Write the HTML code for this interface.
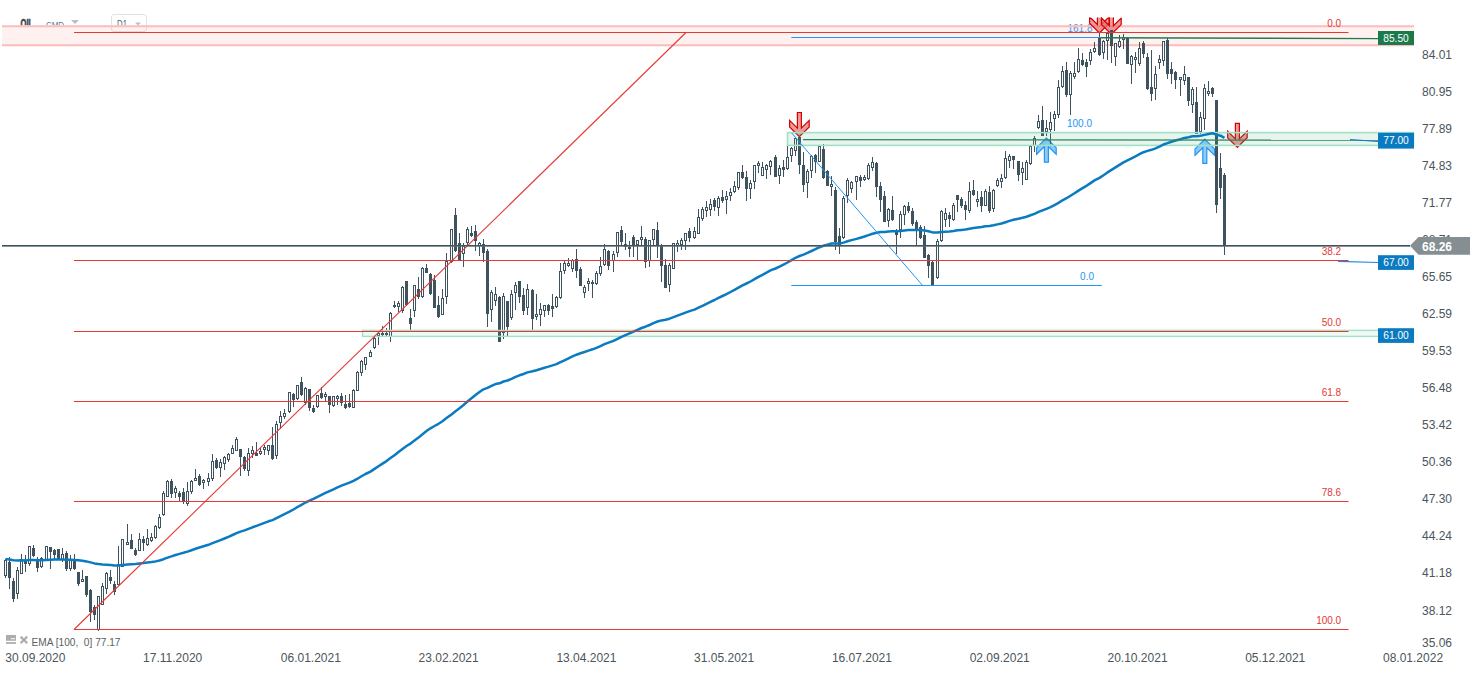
<!DOCTYPE html>
<html><head><meta charset="utf-8"><style>
html,body{margin:0;padding:0;background:#fff;width:1482px;height:674px;overflow:hidden;position:relative}
</style></head><body>
<svg width="1482" height="674" viewBox="0 0 1482 674" style="position:absolute;left:0;top:0">
<g font-family="Liberation Sans, sans-serif">
<text x="20.6" y="28.2" font-size="12.5" font-weight="bold" fill="#3b474f" stroke="#3b474f" stroke-width="0.7" textLength="12.6" lengthAdjust="spacingAndGlyphs">OIL</text>
<text x="46" y="27.8" font-size="9.5" fill="#607a88" textLength="18" lengthAdjust="spacingAndGlyphs">CMD</text>
<path d="M71 20 L79 20 L75 24 Z" fill="#b9bec2"/>
<text x="117" y="28" font-size="10.5" fill="#56616a" textLength="10" lengthAdjust="spacingAndGlyphs">D1</text>
</g>
<rect x="0" y="25.3" width="1414" height="21" fill="#fff"/>
<rect x="111.5" y="14.5" width="35" height="17" rx="2.5" fill="none" stroke="#e1e4e6"/>
<path d="M135 22.5 L141 22.5 L138 25.5 Z" fill="#b9bec2"/>
<text x="1092.5" y="32" text-anchor="end" font-family="Liberation Sans, sans-serif" font-size="10" fill="#3a9af0">161.8</text>
<rect x="2" y="26.3" width="1412" height="19" fill="#f44336" fill-opacity="0.075"/>
<line x1="2" y1="26.3" x2="1414" y2="26.3" stroke="#fbbcbc" stroke-width="2"/>
<line x1="2" y1="45.3" x2="1414" y2="45.3" stroke="#fbbcbc" stroke-width="2"/>
<g>
<polygon points="799.4,136.6 809.2,126.9 809.2,120.4 801.4,128.1 801.4,112.5 797.4,112.5 797.4,128.1 789.6,120.4 789.6,126.9" fill="#e57373" fill-opacity="0.72" stroke="#d50000" stroke-width="1.2" stroke-linejoin="miter"/>
<polygon points="1237.4,147.4 1247.2,137.7 1247.2,131.2 1239.4,138.9 1239.4,123.3 1235.4,123.3 1235.4,138.9 1227.6,131.2 1227.6,137.7" fill="#e57373" fill-opacity="0.72" stroke="#d50000" stroke-width="1.2" stroke-linejoin="miter"/>
<polygon points="1046.4,138.0 1056.2,147.7 1056.2,154.2 1048.4,146.5 1048.4,162.1 1044.4,162.1 1044.4,146.5 1036.6,154.2 1036.6,147.7" fill="#64b5f6" fill-opacity="0.72" stroke="#2196f3" stroke-width="1.2" stroke-linejoin="miter"/>
<polygon points="1204.8,139.2 1214.6,148.9 1214.6,155.4 1206.8,147.7 1206.8,163.3 1202.8,163.3 1202.8,147.7 1195.0,155.4 1195.0,148.9" fill="#64b5f6" fill-opacity="0.72" stroke="#2196f3" stroke-width="1.2" stroke-linejoin="miter"/>
</g>
<g clip-path="url(#topclip)">
<polygon points="1099.4,33.0 1109.2,23.3 1109.2,16.8 1101.4,24.5 1101.4,8.9 1097.4,8.9 1097.4,24.5 1089.6,16.8 1089.6,23.3" fill="#e57373" fill-opacity="0.72" stroke="#d50000" stroke-width="1.2" stroke-linejoin="miter"/>
<polygon points="1111.4,34.3 1121.2,24.6 1121.2,18.1 1113.4,25.8 1113.4,10.2 1109.4,10.2 1109.4,25.8 1101.6,18.1 1101.6,24.6" fill="#e57373" fill-opacity="0.72" stroke="#d50000" stroke-width="1.2" stroke-linejoin="miter"/>
</g>
<defs><clipPath id="topclip"><rect x="0" y="17.5" width="1482" height="700"/></clipPath></defs>
<g stroke="#3f535f" stroke-width="1" fill="none"><line x1="5.5" y1="559" x2="5.5" y2="578"/><rect x="4.5" y="560.5" width="2" height="15" fill="#fff"/><line x1="9.5" y1="557" x2="9.5" y2="589"/><rect x="8.0" y="562" width="3" height="16" fill="#3f535f" stroke="none"/><line x1="13.5" y1="578" x2="13.5" y2="602"/><rect x="12.0" y="581" width="3" height="18" fill="#3f535f" stroke="none"/><line x1="17.5" y1="567" x2="17.5" y2="599"/><rect x="16.5" y="570.5" width="2" height="23" fill="#fff"/><line x1="21.5" y1="554" x2="21.5" y2="574"/><rect x="20.5" y="559.5" width="2" height="14" fill="#fff"/><line x1="25.5" y1="555" x2="25.5" y2="572"/><rect x="24.0" y="560" width="3" height="4" fill="#3f535f" stroke="none"/><line x1="29.5" y1="546" x2="29.5" y2="566"/><rect x="28.5" y="546.5" width="2" height="17" fill="#fff"/><line x1="33.5" y1="545" x2="33.5" y2="557"/><rect x="32.0" y="548" width="3" height="8" fill="#3f535f" stroke="none"/><line x1="37.5" y1="557" x2="37.5" y2="572"/><rect x="36.0" y="559" width="3" height="9" fill="#3f535f" stroke="none"/><line x1="41.5" y1="557" x2="41.5" y2="568"/><rect x="40.5" y="558.5" width="2" height="8" fill="#fff"/><line x1="46.5" y1="546" x2="46.5" y2="560"/><rect x="45.5" y="546.5" width="2" height="13" fill="#fff"/><line x1="50.5" y1="547" x2="50.5" y2="569"/><rect x="49.0" y="547" width="3" height="5" fill="#3f535f" stroke="none"/><line x1="54.5" y1="549" x2="54.5" y2="559"/><rect x="53.0" y="550" width="3" height="5" fill="#3f535f" stroke="none"/><line x1="58.5" y1="549" x2="58.5" y2="560"/><rect x="57.0" y="549" width="3" height="11" fill="#3f535f" stroke="none"/><line x1="62.5" y1="548" x2="62.5" y2="562"/><rect x="61.5" y="554.5" width="2" height="5" fill="#fff"/><line x1="66.5" y1="551" x2="66.5" y2="571"/><rect x="65.0" y="553" width="3" height="16" fill="#3f535f" stroke="none"/><line x1="70.5" y1="555" x2="70.5" y2="571"/><rect x="69.5" y="559.5" width="2" height="9" fill="#fff"/><line x1="74.5" y1="554" x2="74.5" y2="570"/><rect x="73.0" y="559" width="3" height="10" fill="#3f535f" stroke="none"/><line x1="78.5" y1="572" x2="78.5" y2="586"/><rect x="77.0" y="572" width="3" height="12" fill="#3f535f" stroke="none"/><line x1="82.5" y1="570" x2="82.5" y2="582"/><rect x="81.5" y="579.5" width="2" height="2" fill="#fff"/><line x1="86.5" y1="576" x2="86.5" y2="597"/><rect x="85.0" y="576" width="3" height="19" fill="#3f535f" stroke="none"/><line x1="90.5" y1="589" x2="90.5" y2="622"/><rect x="89.0" y="590" width="3" height="22" fill="#3f535f" stroke="none"/><line x1="94.5" y1="605" x2="94.5" y2="620"/><rect x="93.0" y="607" width="3" height="8" fill="#3f535f" stroke="none"/><line x1="98.5" y1="596" x2="98.5" y2="631"/><rect x="97.5" y="596.5" width="2" height="33" fill="#fff"/><line x1="102.5" y1="583" x2="102.5" y2="605"/><rect x="101.5" y="586.5" width="2" height="18" fill="#fff"/><line x1="106.5" y1="572" x2="106.5" y2="594"/><rect x="105.5" y="573.5" width="2" height="15" fill="#fff"/><line x1="110.5" y1="570" x2="110.5" y2="584"/><rect x="109.0" y="577" width="3" height="4" fill="#3f535f" stroke="none"/><line x1="114.5" y1="581" x2="114.5" y2="595"/><rect x="113.0" y="584" width="3" height="8" fill="#3f535f" stroke="none"/><line x1="118.5" y1="546" x2="118.5" y2="585"/><rect x="117.5" y="564.5" width="2" height="20" fill="#fff"/><line x1="122.5" y1="539" x2="122.5" y2="567"/><rect x="121.5" y="539.5" width="2" height="27" fill="#fff"/><line x1="127.5" y1="524" x2="127.5" y2="545"/><rect x="126.5" y="542.5" width="2" height="2" fill="#fff"/><line x1="131.5" y1="534" x2="131.5" y2="549"/><rect x="130.0" y="540" width="3" height="9" fill="#3f535f" stroke="none"/><line x1="135.5" y1="548" x2="135.5" y2="556"/><rect x="134.0" y="550" width="3" height="5" fill="#3f535f" stroke="none"/><line x1="139.5" y1="533" x2="139.5" y2="551"/><rect x="138.5" y="539.5" width="2" height="11" fill="#fff"/><line x1="143.5" y1="536" x2="143.5" y2="551"/><rect x="142.0" y="539" width="3" height="4" fill="#3f535f" stroke="none"/><line x1="147.5" y1="529" x2="147.5" y2="546"/><rect x="146.5" y="538.5" width="2" height="6" fill="#fff"/><line x1="151.5" y1="533" x2="151.5" y2="542"/><rect x="150.5" y="537.5" width="2" height="3" fill="#fff"/><line x1="155.5" y1="525" x2="155.5" y2="539"/><rect x="154.5" y="526.5" width="2" height="11" fill="#fff"/><line x1="159.5" y1="514" x2="159.5" y2="529"/><rect x="158.5" y="517.5" width="2" height="10" fill="#fff"/><line x1="163.5" y1="491" x2="163.5" y2="516"/><rect x="162.5" y="493.5" width="2" height="21" fill="#fff"/><line x1="167.5" y1="480" x2="167.5" y2="497"/><rect x="166.5" y="481.5" width="2" height="15" fill="#fff"/><line x1="171.5" y1="479" x2="171.5" y2="498"/><rect x="170.0" y="481" width="3" height="13" fill="#3f535f" stroke="none"/><line x1="175.5" y1="486" x2="175.5" y2="498"/><rect x="174.5" y="488.5" width="2" height="4" fill="#fff"/><line x1="179.5" y1="491" x2="179.5" y2="502"/><rect x="178.0" y="493" width="3" height="4" fill="#3f535f" stroke="none"/><line x1="183.5" y1="488" x2="183.5" y2="504"/><rect x="182.0" y="492" width="3" height="9" fill="#3f535f" stroke="none"/><line x1="187.5" y1="482" x2="187.5" y2="506"/><rect x="186.5" y="491.5" width="2" height="12" fill="#fff"/><line x1="191.5" y1="480" x2="191.5" y2="494"/><rect x="190.5" y="481.5" width="2" height="10" fill="#fff"/><line x1="195.5" y1="469" x2="195.5" y2="481"/><rect x="194.5" y="478.5" width="2" height="2" fill="#fff"/><line x1="199.5" y1="474" x2="199.5" y2="486"/><rect x="198.0" y="476" width="3" height="9" fill="#3f535f" stroke="none"/><line x1="203.5" y1="479" x2="203.5" y2="489"/><rect x="202.5" y="480.5" width="2" height="2" fill="#fff"/><line x1="208.5" y1="473" x2="208.5" y2="486"/><rect x="207.5" y="478.5" width="2" height="3" fill="#fff"/><line x1="212.5" y1="454" x2="212.5" y2="481"/><rect x="211.5" y="461.5" width="2" height="17" fill="#fff"/><line x1="216.5" y1="458" x2="216.5" y2="469"/><rect x="215.0" y="460" width="3" height="8" fill="#3f535f" stroke="none"/><line x1="220.5" y1="459" x2="220.5" y2="477"/><rect x="219.5" y="462.5" width="2" height="5" fill="#fff"/><line x1="224.5" y1="456" x2="224.5" y2="470"/><rect x="223.5" y="457.5" width="2" height="6" fill="#fff"/><line x1="228.5" y1="453" x2="228.5" y2="462"/><rect x="227.5" y="454.5" width="2" height="5" fill="#fff"/><line x1="232.5" y1="445" x2="232.5" y2="454"/><rect x="231.5" y="448.5" width="2" height="5" fill="#fff"/><line x1="236.5" y1="437" x2="236.5" y2="451"/><rect x="235.5" y="439.5" width="2" height="11" fill="#fff"/><line x1="240.5" y1="449" x2="240.5" y2="476"/><rect x="239.0" y="449" width="3" height="8" fill="#3f535f" stroke="none"/><line x1="244.5" y1="456" x2="244.5" y2="471"/><rect x="243.0" y="457" width="3" height="12" fill="#3f535f" stroke="none"/><line x1="248.5" y1="448" x2="248.5" y2="476"/><rect x="247.5" y="453.5" width="2" height="17" fill="#fff"/><line x1="252.5" y1="446" x2="252.5" y2="458"/><rect x="251.5" y="450.5" width="2" height="3" fill="#fff"/><line x1="256.5" y1="442" x2="256.5" y2="456"/><rect x="255.0" y="453" width="3" height="3" fill="#3f535f" stroke="none"/><line x1="260.5" y1="448" x2="260.5" y2="455"/><rect x="259.5" y="451.5" width="2" height="2" fill="#fff"/><line x1="264.5" y1="445" x2="264.5" y2="455"/><rect x="263.5" y="447.5" width="2" height="2" fill="#fff"/><line x1="268.5" y1="445" x2="268.5" y2="455"/><rect x="267.5" y="445.5" width="2" height="5" fill="#fff"/><line x1="272.5" y1="427" x2="272.5" y2="460"/><rect x="271.0" y="445" width="3" height="14" fill="#3f535f" stroke="none"/><line x1="276.5" y1="421" x2="276.5" y2="459"/><rect x="275.5" y="424.5" width="2" height="31" fill="#fff"/><line x1="280.5" y1="411" x2="280.5" y2="429"/><rect x="279.5" y="416.5" width="2" height="6" fill="#fff"/><line x1="284.5" y1="409" x2="284.5" y2="419"/><rect x="283.5" y="413.5" width="2" height="3" fill="#fff"/><line x1="289.5" y1="392" x2="289.5" y2="413"/><rect x="288.5" y="392.5" width="2" height="19" fill="#fff"/><line x1="293.5" y1="393" x2="293.5" y2="407"/><rect x="292.0" y="394" width="3" height="6" fill="#3f535f" stroke="none"/><line x1="297.5" y1="385" x2="297.5" y2="400"/><rect x="296.5" y="385.5" width="2" height="13" fill="#fff"/><line x1="301.5" y1="377" x2="301.5" y2="396"/><rect x="300.0" y="382" width="3" height="13" fill="#3f535f" stroke="none"/><line x1="305.5" y1="387" x2="305.5" y2="405"/><rect x="304.5" y="388.5" width="2" height="14" fill="#fff"/><line x1="309.5" y1="389" x2="309.5" y2="411"/><rect x="308.0" y="389" width="3" height="19" fill="#3f535f" stroke="none"/><line x1="313.5" y1="405" x2="313.5" y2="413"/><rect x="312.0" y="408" width="3" height="4" fill="#3f535f" stroke="none"/><line x1="317.5" y1="395" x2="317.5" y2="408"/><rect x="316.5" y="395.5" width="2" height="11" fill="#fff"/><line x1="321.5" y1="387" x2="321.5" y2="399"/><rect x="320.0" y="393" width="3" height="5" fill="#3f535f" stroke="none"/><line x1="325.5" y1="392" x2="325.5" y2="401"/><rect x="324.5" y="394.5" width="2" height="2" fill="#fff"/><line x1="329.5" y1="396" x2="329.5" y2="413"/><rect x="328.0" y="396" width="3" height="9" fill="#3f535f" stroke="none"/><line x1="333.5" y1="396" x2="333.5" y2="407"/><rect x="332.5" y="396.5" width="2" height="9" fill="#fff"/><line x1="337.5" y1="395" x2="337.5" y2="405"/><rect x="336.5" y="396.5" width="2" height="2" fill="#fff"/><line x1="341.5" y1="393" x2="341.5" y2="406"/><rect x="340.0" y="396" width="3" height="7" fill="#3f535f" stroke="none"/><line x1="345.5" y1="395" x2="345.5" y2="409"/><rect x="344.0" y="404" width="3" height="4" fill="#3f535f" stroke="none"/><line x1="349.5" y1="394" x2="349.5" y2="408"/><rect x="348.0" y="403" width="3" height="4" fill="#3f535f" stroke="none"/><line x1="353.5" y1="389" x2="353.5" y2="408"/><rect x="352.5" y="390.5" width="2" height="17" fill="#fff"/><line x1="357.5" y1="371" x2="357.5" y2="391"/><rect x="356.5" y="372.5" width="2" height="18" fill="#fff"/><line x1="361.5" y1="360" x2="361.5" y2="376"/><rect x="360.5" y="361.5" width="2" height="11" fill="#fff"/><line x1="365.5" y1="357" x2="365.5" y2="370"/><rect x="364.5" y="357.5" width="2" height="7" fill="#fff"/><line x1="370.5" y1="350" x2="370.5" y2="357"/><rect x="369.5" y="352.5" width="2" height="4" fill="#fff"/><line x1="374.5" y1="336" x2="374.5" y2="349"/><rect x="373.5" y="338.5" width="2" height="9" fill="#fff"/><line x1="378.5" y1="332" x2="378.5" y2="345"/><rect x="377.5" y="333.5" width="2" height="2" fill="#fff"/><line x1="382.5" y1="326" x2="382.5" y2="336"/><rect x="381.0" y="333" width="3" height="2" fill="#3f535f" stroke="none"/><line x1="386.5" y1="328" x2="386.5" y2="336"/><rect x="385.0" y="333" width="3" height="2" fill="#3f535f" stroke="none"/><line x1="390.5" y1="312" x2="390.5" y2="342"/><rect x="389.5" y="313.5" width="2" height="23" fill="#fff"/><line x1="394.5" y1="301" x2="394.5" y2="308"/><rect x="393.0" y="305" width="3" height="2" fill="#3f535f" stroke="none"/><line x1="398.5" y1="301" x2="398.5" y2="312"/><rect x="397.5" y="303.5" width="2" height="3" fill="#fff"/><line x1="402.5" y1="286" x2="402.5" y2="313"/><rect x="401.5" y="287.5" width="2" height="23" fill="#fff"/><line x1="406.5" y1="281" x2="406.5" y2="306"/><rect x="405.0" y="281" width="3" height="24" fill="#3f535f" stroke="none"/><line x1="410.5" y1="309" x2="410.5" y2="330"/><rect x="409.0" y="318" width="3" height="6" fill="#3f535f" stroke="none"/><line x1="414.5" y1="285" x2="414.5" y2="317"/><rect x="413.5" y="285.5" width="2" height="25" fill="#fff"/><line x1="418.5" y1="277" x2="418.5" y2="299"/><rect x="417.0" y="289" width="3" height="8" fill="#3f535f" stroke="none"/><line x1="422.5" y1="267" x2="422.5" y2="298"/><rect x="421.5" y="268.5" width="2" height="28" fill="#fff"/><line x1="426.5" y1="264" x2="426.5" y2="273"/><rect x="425.0" y="268" width="3" height="5" fill="#3f535f" stroke="none"/><line x1="430.5" y1="273" x2="430.5" y2="295"/><rect x="429.0" y="274" width="3" height="20" fill="#3f535f" stroke="none"/><line x1="434.5" y1="275" x2="434.5" y2="308"/><rect x="433.0" y="280" width="3" height="28" fill="#3f535f" stroke="none"/><line x1="438.5" y1="296" x2="438.5" y2="318"/><rect x="437.0" y="305" width="3" height="12" fill="#3f535f" stroke="none"/><line x1="442.5" y1="289" x2="442.5" y2="315"/><rect x="441.5" y="298.5" width="2" height="16" fill="#fff"/><line x1="446.5" y1="253" x2="446.5" y2="304"/><rect x="445.5" y="261.5" width="2" height="35" fill="#fff"/><line x1="451.5" y1="229" x2="451.5" y2="263"/><rect x="450.5" y="229.5" width="2" height="32" fill="#fff"/><line x1="455.5" y1="208" x2="455.5" y2="252"/><rect x="454.0" y="215" width="3" height="36" fill="#3f535f" stroke="none"/><line x1="459.5" y1="233" x2="459.5" y2="261"/><rect x="458.0" y="243" width="3" height="17" fill="#3f535f" stroke="none"/><line x1="463.5" y1="243" x2="463.5" y2="267"/><rect x="462.5" y="246.5" width="2" height="7" fill="#fff"/><line x1="467.5" y1="227" x2="467.5" y2="246"/><rect x="466.5" y="229.5" width="2" height="13" fill="#fff"/><line x1="471.5" y1="226" x2="471.5" y2="237"/><rect x="470.0" y="233" width="3" height="3" fill="#3f535f" stroke="none"/><line x1="475.5" y1="225" x2="475.5" y2="251"/><rect x="474.0" y="231" width="3" height="10" fill="#3f535f" stroke="none"/><line x1="479.5" y1="242" x2="479.5" y2="256"/><rect x="478.5" y="243.5" width="2" height="2" fill="#fff"/><line x1="483.5" y1="239" x2="483.5" y2="262"/><rect x="482.0" y="244" width="3" height="9" fill="#3f535f" stroke="none"/><line x1="487.5" y1="249" x2="487.5" y2="327"/><rect x="486.0" y="251" width="3" height="63" fill="#3f535f" stroke="none"/><line x1="491.5" y1="290" x2="491.5" y2="322"/><rect x="490.5" y="292.5" width="2" height="17" fill="#fff"/><line x1="495.5" y1="287" x2="495.5" y2="306"/><rect x="494.5" y="294.5" width="2" height="6" fill="#fff"/><line x1="499.5" y1="296" x2="499.5" y2="342"/><rect x="498.0" y="297" width="3" height="45" fill="#3f535f" stroke="none"/><line x1="503.5" y1="293" x2="503.5" y2="339"/><rect x="502.5" y="296.5" width="2" height="36" fill="#fff"/><line x1="507.5" y1="301" x2="507.5" y2="336"/><rect x="506.0" y="301" width="3" height="26" fill="#3f535f" stroke="none"/><line x1="511.5" y1="290" x2="511.5" y2="320"/><rect x="510.5" y="294.5" width="2" height="23" fill="#fff"/><line x1="515.5" y1="282" x2="515.5" y2="310"/><rect x="514.5" y="285.5" width="2" height="7" fill="#fff"/><line x1="519.5" y1="281" x2="519.5" y2="303"/><rect x="518.0" y="281" width="3" height="16" fill="#3f535f" stroke="none"/><line x1="523.5" y1="288" x2="523.5" y2="315"/><rect x="522.0" y="295" width="3" height="16" fill="#3f535f" stroke="none"/><line x1="527.5" y1="284" x2="527.5" y2="315"/><rect x="526.5" y="289.5" width="2" height="18" fill="#fff"/><line x1="532.5" y1="289" x2="532.5" y2="330"/><rect x="531.0" y="290" width="3" height="29" fill="#3f535f" stroke="none"/><line x1="536.5" y1="294" x2="536.5" y2="320"/><rect x="535.5" y="314.5" width="2" height="2" fill="#fff"/><line x1="540.5" y1="303" x2="540.5" y2="326"/><rect x="539.5" y="309.5" width="2" height="5" fill="#fff"/><line x1="544.5" y1="305" x2="544.5" y2="317"/><rect x="543.5" y="305.5" width="2" height="5" fill="#fff"/><line x1="548.5" y1="304" x2="548.5" y2="315"/><rect x="547.0" y="305" width="3" height="6" fill="#3f535f" stroke="none"/><line x1="552.5" y1="294" x2="552.5" y2="317"/><rect x="551.0" y="306" width="3" height="3" fill="#3f535f" stroke="none"/><line x1="556.5" y1="296" x2="556.5" y2="308"/><rect x="555.5" y="297.5" width="2" height="9" fill="#fff"/><line x1="560.5" y1="263" x2="560.5" y2="299"/><rect x="559.5" y="271.5" width="2" height="26" fill="#fff"/><line x1="564.5" y1="261" x2="564.5" y2="274"/><rect x="563.5" y="263.5" width="2" height="7" fill="#fff"/><line x1="568.5" y1="258" x2="568.5" y2="267"/><rect x="567.5" y="263.5" width="2" height="2" fill="#fff"/><line x1="572.5" y1="259" x2="572.5" y2="272"/><rect x="571.5" y="260.5" width="2" height="8" fill="#fff"/><line x1="576.5" y1="249" x2="576.5" y2="278"/><rect x="575.0" y="259" width="3" height="12" fill="#3f535f" stroke="none"/><line x1="580.5" y1="267" x2="580.5" y2="286"/><rect x="579.0" y="269" width="3" height="17" fill="#3f535f" stroke="none"/><line x1="584.5" y1="285" x2="584.5" y2="298"/><rect x="583.5" y="287.5" width="2" height="5" fill="#fff"/><line x1="588.5" y1="278" x2="588.5" y2="291"/><rect x="587.5" y="281.5" width="2" height="2" fill="#fff"/><line x1="592.5" y1="280" x2="592.5" y2="298"/><rect x="591.0" y="282" width="3" height="2" fill="#3f535f" stroke="none"/><line x1="596.5" y1="271" x2="596.5" y2="285"/><rect x="595.5" y="273.5" width="2" height="10" fill="#fff"/><line x1="600.5" y1="257" x2="600.5" y2="276"/><rect x="599.5" y="266.5" width="2" height="7" fill="#fff"/><line x1="604.5" y1="244" x2="604.5" y2="266"/><rect x="603.5" y="249.5" width="2" height="15" fill="#fff"/><line x1="608.5" y1="250" x2="608.5" y2="270"/><rect x="607.0" y="251" width="3" height="15" fill="#3f535f" stroke="none"/><line x1="613.5" y1="251" x2="613.5" y2="272"/><rect x="612.5" y="254.5" width="2" height="6" fill="#fff"/><line x1="617.5" y1="232" x2="617.5" y2="257"/><rect x="616.5" y="232.5" width="2" height="20" fill="#fff"/><line x1="621.5" y1="226" x2="621.5" y2="245"/><rect x="620.0" y="230" width="3" height="12" fill="#3f535f" stroke="none"/><line x1="625.5" y1="233" x2="625.5" y2="250"/><rect x="624.0" y="244" width="3" height="3" fill="#3f535f" stroke="none"/><line x1="629.5" y1="241" x2="629.5" y2="257"/><rect x="628.0" y="247" width="3" height="2" fill="#3f535f" stroke="none"/><line x1="633.5" y1="235" x2="633.5" y2="257"/><rect x="632.0" y="237" width="3" height="8" fill="#3f535f" stroke="none"/><line x1="637.5" y1="240" x2="637.5" y2="260"/><rect x="636.5" y="240.5" width="2" height="4" fill="#fff"/><line x1="641.5" y1="226" x2="641.5" y2="245"/><rect x="640.5" y="237.5" width="2" height="2" fill="#fff"/><line x1="645.5" y1="237" x2="645.5" y2="268"/><rect x="644.0" y="239" width="3" height="23" fill="#3f535f" stroke="none"/><line x1="649.5" y1="240" x2="649.5" y2="267"/><rect x="648.5" y="240.5" width="2" height="20" fill="#fff"/><line x1="653.5" y1="229" x2="653.5" y2="245"/><rect x="652.5" y="229.5" width="2" height="10" fill="#fff"/><line x1="657.5" y1="222" x2="657.5" y2="258"/><rect x="656.0" y="230" width="3" height="15" fill="#3f535f" stroke="none"/><line x1="661.5" y1="244" x2="661.5" y2="282"/><rect x="660.0" y="245" width="3" height="21" fill="#3f535f" stroke="none"/><line x1="665.5" y1="259" x2="665.5" y2="288"/><rect x="664.0" y="265" width="3" height="23" fill="#3f535f" stroke="none"/><line x1="669.5" y1="263" x2="669.5" y2="292"/><rect x="668.5" y="265.5" width="2" height="19" fill="#fff"/><line x1="673.5" y1="243" x2="673.5" y2="269"/><rect x="672.5" y="243.5" width="2" height="25" fill="#fff"/><line x1="677.5" y1="240" x2="677.5" y2="252"/><rect x="676.5" y="243.5" width="2" height="2" fill="#fff"/><line x1="681.5" y1="238" x2="681.5" y2="250"/><rect x="680.5" y="240.5" width="2" height="4" fill="#fff"/><line x1="685.5" y1="233" x2="685.5" y2="250"/><rect x="684.5" y="233.5" width="2" height="7" fill="#fff"/><line x1="689.5" y1="228" x2="689.5" y2="242"/><rect x="688.0" y="231" width="3" height="7" fill="#3f535f" stroke="none"/><line x1="694.5" y1="227" x2="694.5" y2="239"/><rect x="693.5" y="231.5" width="2" height="6" fill="#fff"/><line x1="698.5" y1="209" x2="698.5" y2="234"/><rect x="697.5" y="217.5" width="2" height="16" fill="#fff"/><line x1="702.5" y1="207" x2="702.5" y2="221"/><rect x="701.5" y="209.5" width="2" height="9" fill="#fff"/><line x1="706.5" y1="201" x2="706.5" y2="217"/><rect x="705.5" y="207.5" width="2" height="3" fill="#fff"/><line x1="710.5" y1="199" x2="710.5" y2="216"/><rect x="709.5" y="204.5" width="2" height="5" fill="#fff"/><line x1="714.5" y1="198" x2="714.5" y2="211"/><rect x="713.0" y="200" width="3" height="7" fill="#3f535f" stroke="none"/><line x1="718.5" y1="196" x2="718.5" y2="216"/><rect x="717.5" y="198.5" width="2" height="9" fill="#fff"/><line x1="722.5" y1="190" x2="722.5" y2="203"/><rect x="721.0" y="197" width="3" height="4" fill="#3f535f" stroke="none"/><line x1="726.5" y1="191" x2="726.5" y2="214"/><rect x="725.5" y="196.5" width="2" height="3" fill="#fff"/><line x1="730.5" y1="188" x2="730.5" y2="201"/><rect x="729.5" y="192.5" width="2" height="3" fill="#fff"/><line x1="734.5" y1="181" x2="734.5" y2="193"/><rect x="733.5" y="186.5" width="2" height="5" fill="#fff"/><line x1="738.5" y1="172" x2="738.5" y2="190"/><rect x="737.5" y="172.5" width="2" height="15" fill="#fff"/><line x1="742.5" y1="165" x2="742.5" y2="179"/><rect x="741.0" y="172" width="3" height="6" fill="#3f535f" stroke="none"/><line x1="746.5" y1="171" x2="746.5" y2="201"/><rect x="745.0" y="177" width="3" height="12" fill="#3f535f" stroke="none"/><line x1="750.5" y1="180" x2="750.5" y2="199"/><rect x="749.5" y="183.5" width="2" height="5" fill="#fff"/><line x1="754.5" y1="165" x2="754.5" y2="189"/><rect x="753.5" y="165.5" width="2" height="16" fill="#fff"/><line x1="758.5" y1="161" x2="758.5" y2="173"/><rect x="757.5" y="163.5" width="2" height="2" fill="#fff"/><line x1="762.5" y1="162" x2="762.5" y2="176"/><rect x="761.5" y="167.5" width="2" height="8" fill="#fff"/><line x1="766.5" y1="164" x2="766.5" y2="179"/><rect x="765.5" y="165.5" width="2" height="4" fill="#fff"/><line x1="770.5" y1="160" x2="770.5" y2="175"/><rect x="769.5" y="161.5" width="2" height="5" fill="#fff"/><line x1="775.5" y1="155" x2="775.5" y2="177"/><rect x="774.0" y="157" width="3" height="20" fill="#3f535f" stroke="none"/><line x1="779.5" y1="165" x2="779.5" y2="184"/><rect x="778.5" y="168.5" width="2" height="7" fill="#fff"/><line x1="783.5" y1="160" x2="783.5" y2="177"/><rect x="782.0" y="167" width="3" height="3" fill="#3f535f" stroke="none"/><line x1="787.5" y1="146" x2="787.5" y2="170"/><rect x="786.5" y="157.5" width="2" height="11" fill="#fff"/><line x1="791.5" y1="147" x2="791.5" y2="162"/><rect x="790.5" y="148.5" width="2" height="7" fill="#fff"/><line x1="795.5" y1="137" x2="795.5" y2="156"/><rect x="794.5" y="138.5" width="2" height="12" fill="#fff"/><line x1="799.5" y1="136" x2="799.5" y2="174"/><rect x="798.0" y="137" width="3" height="28" fill="#3f535f" stroke="none"/><line x1="803.5" y1="152" x2="803.5" y2="192"/><rect x="802.0" y="165" width="3" height="20" fill="#3f535f" stroke="none"/><line x1="807.5" y1="169" x2="807.5" y2="198"/><rect x="806.5" y="171.5" width="2" height="11" fill="#fff"/><line x1="811.5" y1="155" x2="811.5" y2="178"/><rect x="810.5" y="156.5" width="2" height="14" fill="#fff"/><line x1="815.5" y1="154" x2="815.5" y2="173"/><rect x="814.0" y="155" width="3" height="7" fill="#3f535f" stroke="none"/><line x1="819.5" y1="145" x2="819.5" y2="162"/><rect x="818.5" y="146.5" width="2" height="15" fill="#fff"/><line x1="823.5" y1="144" x2="823.5" y2="179"/><rect x="822.0" y="149" width="3" height="29" fill="#3f535f" stroke="none"/><line x1="827.5" y1="170" x2="827.5" y2="186"/><rect x="826.0" y="171" width="3" height="15" fill="#3f535f" stroke="none"/><line x1="831.5" y1="176" x2="831.5" y2="196"/><rect x="830.5" y="184.5" width="2" height="2" fill="#fff"/><line x1="835.5" y1="187" x2="835.5" y2="250"/><rect x="834.0" y="190" width="3" height="52" fill="#3f535f" stroke="none"/><line x1="839.5" y1="228" x2="839.5" y2="254"/><rect x="838.0" y="236" width="3" height="9" fill="#3f535f" stroke="none"/><line x1="843.5" y1="196" x2="843.5" y2="239"/><rect x="842.5" y="198.5" width="2" height="39" fill="#fff"/><line x1="847.5" y1="178" x2="847.5" y2="203"/><rect x="846.5" y="180.5" width="2" height="15" fill="#fff"/><line x1="851.5" y1="181" x2="851.5" y2="193"/><rect x="850.5" y="182.5" width="2" height="6" fill="#fff"/><line x1="856.5" y1="176" x2="856.5" y2="200"/><rect x="855.5" y="176.5" width="2" height="5" fill="#fff"/><line x1="860.5" y1="175" x2="860.5" y2="187"/><rect x="859.0" y="177" width="3" height="4" fill="#3f535f" stroke="none"/><line x1="864.5" y1="175" x2="864.5" y2="181"/><rect x="863.5" y="177.5" width="2" height="2" fill="#fff"/><line x1="868.5" y1="163" x2="868.5" y2="180"/><rect x="867.5" y="165.5" width="2" height="13" fill="#fff"/><line x1="872.5" y1="157" x2="872.5" y2="171"/><rect x="871.5" y="162.5" width="2" height="5" fill="#fff"/><line x1="876.5" y1="162" x2="876.5" y2="197"/><rect x="875.0" y="163" width="3" height="24" fill="#3f535f" stroke="none"/><line x1="880.5" y1="182" x2="880.5" y2="212"/><rect x="879.0" y="186" width="3" height="14" fill="#3f535f" stroke="none"/><line x1="884.5" y1="191" x2="884.5" y2="222"/><rect x="883.0" y="196" width="3" height="26" fill="#3f535f" stroke="none"/><line x1="888.5" y1="208" x2="888.5" y2="227"/><rect x="887.5" y="209.5" width="2" height="11" fill="#fff"/><line x1="892.5" y1="196" x2="892.5" y2="221"/><rect x="891.0" y="210" width="3" height="10" fill="#3f535f" stroke="none"/><line x1="896.5" y1="229" x2="896.5" y2="254"/><rect x="895.0" y="230" width="3" height="5" fill="#3f535f" stroke="none"/><line x1="900.5" y1="211" x2="900.5" y2="238"/><rect x="899.5" y="214.5" width="2" height="15" fill="#fff"/><line x1="904.5" y1="205" x2="904.5" y2="225"/><rect x="903.5" y="206.5" width="2" height="8" fill="#fff"/><line x1="908.5" y1="202" x2="908.5" y2="213"/><rect x="907.0" y="206" width="3" height="5" fill="#3f535f" stroke="none"/><line x1="912.5" y1="208" x2="912.5" y2="226"/><rect x="911.0" y="211" width="3" height="13" fill="#3f535f" stroke="none"/><line x1="916.5" y1="220" x2="916.5" y2="245"/><rect x="915.0" y="222" width="3" height="7" fill="#3f535f" stroke="none"/><line x1="920.5" y1="225" x2="920.5" y2="239"/><rect x="919.0" y="227" width="3" height="11" fill="#3f535f" stroke="none"/><line x1="924.5" y1="226" x2="924.5" y2="258"/><rect x="923.0" y="235" width="3" height="23" fill="#3f535f" stroke="none"/><line x1="928.5" y1="254" x2="928.5" y2="278"/><rect x="927.0" y="255" width="3" height="11" fill="#3f535f" stroke="none"/><line x1="932.5" y1="261" x2="932.5" y2="285"/><rect x="931.0" y="262" width="3" height="23" fill="#3f535f" stroke="none"/><line x1="937.5" y1="239" x2="937.5" y2="279"/><rect x="936.5" y="241.5" width="2" height="36" fill="#fff"/><line x1="941.5" y1="210" x2="941.5" y2="242"/><rect x="940.5" y="211.5" width="2" height="29" fill="#fff"/><line x1="945.5" y1="208" x2="945.5" y2="227"/><rect x="944.5" y="213.5" width="2" height="6" fill="#fff"/><line x1="949.5" y1="212" x2="949.5" y2="227"/><rect x="948.0" y="215" width="3" height="4" fill="#3f535f" stroke="none"/><line x1="953.5" y1="203" x2="953.5" y2="221"/><rect x="952.5" y="205.5" width="2" height="14" fill="#fff"/><line x1="957.5" y1="195" x2="957.5" y2="212"/><rect x="956.0" y="195" width="3" height="5" fill="#3f535f" stroke="none"/><line x1="961.5" y1="197" x2="961.5" y2="208"/><rect x="960.0" y="199" width="3" height="7" fill="#3f535f" stroke="none"/><line x1="965.5" y1="201" x2="965.5" y2="220"/><rect x="964.0" y="205" width="3" height="5" fill="#3f535f" stroke="none"/><line x1="969.5" y1="182" x2="969.5" y2="213"/><rect x="968.5" y="191.5" width="2" height="19" fill="#fff"/><line x1="973.5" y1="180" x2="973.5" y2="196"/><rect x="972.0" y="190" width="3" height="5" fill="#3f535f" stroke="none"/><line x1="977.5" y1="191" x2="977.5" y2="207"/><rect x="976.5" y="199.5" width="2" height="2" fill="#fff"/><line x1="981.5" y1="191" x2="981.5" y2="212"/><rect x="980.0" y="197" width="3" height="9" fill="#3f535f" stroke="none"/><line x1="985.5" y1="189" x2="985.5" y2="206"/><rect x="984.5" y="191.5" width="2" height="14" fill="#fff"/><line x1="989.5" y1="186" x2="989.5" y2="213"/><rect x="988.0" y="192" width="3" height="19" fill="#3f535f" stroke="none"/><line x1="993.5" y1="189" x2="993.5" y2="212"/><rect x="992.5" y="190.5" width="2" height="18" fill="#fff"/><line x1="997.5" y1="178" x2="997.5" y2="187"/><rect x="996.5" y="180.5" width="2" height="5" fill="#fff"/><line x1="1001.5" y1="174" x2="1001.5" y2="188"/><rect x="1000.5" y="178.5" width="2" height="3" fill="#fff"/><line x1="1005.5" y1="151" x2="1005.5" y2="179"/><rect x="1004.5" y="158.5" width="2" height="19" fill="#fff"/><line x1="1009.5" y1="154" x2="1009.5" y2="168"/><rect x="1008.5" y="156.5" width="2" height="4" fill="#fff"/><line x1="1013.5" y1="156" x2="1013.5" y2="169"/><rect x="1012.0" y="156" width="3" height="4" fill="#3f535f" stroke="none"/><line x1="1018.5" y1="161" x2="1018.5" y2="181"/><rect x="1017.0" y="161" width="3" height="14" fill="#3f535f" stroke="none"/><line x1="1022.5" y1="162" x2="1022.5" y2="185"/><rect x="1021.5" y="168.5" width="2" height="4" fill="#fff"/><line x1="1026.5" y1="160" x2="1026.5" y2="180"/><rect x="1025.5" y="162.5" width="2" height="17" fill="#fff"/><line x1="1030.5" y1="146" x2="1030.5" y2="165"/><rect x="1029.5" y="146.5" width="2" height="17" fill="#fff"/><line x1="1034.5" y1="136" x2="1034.5" y2="152"/><rect x="1033.5" y="138.5" width="2" height="7" fill="#fff"/><line x1="1038.5" y1="115" x2="1038.5" y2="129"/><rect x="1037.5" y="121.5" width="2" height="6" fill="#fff"/><line x1="1042.5" y1="106" x2="1042.5" y2="136"/><rect x="1041.0" y="120" width="3" height="16" fill="#3f535f" stroke="none"/><line x1="1046.5" y1="120" x2="1046.5" y2="136"/><rect x="1045.5" y="128.5" width="2" height="3" fill="#fff"/><line x1="1050.5" y1="112" x2="1050.5" y2="144"/><rect x="1049.5" y="122.5" width="2" height="7" fill="#fff"/><line x1="1054.5" y1="111" x2="1054.5" y2="131"/><rect x="1053.5" y="114.5" width="2" height="4" fill="#fff"/><line x1="1058.5" y1="80" x2="1058.5" y2="118"/><rect x="1057.5" y="87.5" width="2" height="27" fill="#fff"/><line x1="1062.5" y1="66" x2="1062.5" y2="88"/><rect x="1061.5" y="71.5" width="2" height="15" fill="#fff"/><line x1="1066.5" y1="62" x2="1066.5" y2="97"/><rect x="1065.0" y="70" width="3" height="25" fill="#3f535f" stroke="none"/><line x1="1070.5" y1="71" x2="1070.5" y2="115"/><rect x="1069.5" y="73.5" width="2" height="21" fill="#fff"/><line x1="1074.5" y1="62" x2="1074.5" y2="79"/><rect x="1073.5" y="73.5" width="2" height="3" fill="#fff"/><line x1="1078.5" y1="48" x2="1078.5" y2="73"/><rect x="1077.5" y="59.5" width="2" height="12" fill="#fff"/><line x1="1082.5" y1="53" x2="1082.5" y2="66"/><rect x="1081.0" y="60" width="3" height="5" fill="#3f535f" stroke="none"/><line x1="1086.5" y1="59" x2="1086.5" y2="77"/><rect x="1085.0" y="62" width="3" height="5" fill="#3f535f" stroke="none"/><line x1="1090.5" y1="49" x2="1090.5" y2="65"/><rect x="1089.5" y="52.5" width="2" height="8" fill="#fff"/><line x1="1094.5" y1="42" x2="1094.5" y2="53"/><rect x="1093.5" y="48.5" width="2" height="3" fill="#fff"/><line x1="1099.5" y1="32" x2="1099.5" y2="56"/><rect x="1098.0" y="38" width="3" height="17" fill="#3f535f" stroke="none"/><line x1="1103.5" y1="40" x2="1103.5" y2="59"/><rect x="1102.5" y="41.5" width="2" height="11" fill="#fff"/><line x1="1107.5" y1="33" x2="1107.5" y2="60"/><rect x="1106.5" y="33.5" width="2" height="7" fill="#fff"/><line x1="1111.5" y1="30" x2="1111.5" y2="63"/><rect x="1110.0" y="30" width="3" height="16" fill="#3f535f" stroke="none"/><line x1="1115.5" y1="43" x2="1115.5" y2="66"/><rect x="1114.5" y="43.5" width="2" height="13" fill="#fff"/><line x1="1119.5" y1="35" x2="1119.5" y2="48"/><rect x="1118.5" y="41.5" width="2" height="5" fill="#fff"/><line x1="1123.5" y1="34" x2="1123.5" y2="49"/><rect x="1122.5" y="37.5" width="2" height="2" fill="#fff"/><line x1="1127.5" y1="37" x2="1127.5" y2="64"/><rect x="1126.0" y="38" width="3" height="26" fill="#3f535f" stroke="none"/><line x1="1131.5" y1="55" x2="1131.5" y2="84"/><rect x="1130.5" y="56.5" width="2" height="8" fill="#fff"/><line x1="1135.5" y1="52" x2="1135.5" y2="73"/><rect x="1134.5" y="57.5" width="2" height="2" fill="#fff"/><line x1="1139.5" y1="42" x2="1139.5" y2="66"/><rect x="1138.5" y="48.5" width="2" height="15" fill="#fff"/><line x1="1143.5" y1="41" x2="1143.5" y2="58"/><rect x="1142.0" y="43" width="3" height="11" fill="#3f535f" stroke="none"/><line x1="1147.5" y1="53" x2="1147.5" y2="90"/><rect x="1146.0" y="57" width="3" height="32" fill="#3f535f" stroke="none"/><line x1="1151.5" y1="50" x2="1151.5" y2="101"/><rect x="1150.0" y="87" width="3" height="7" fill="#3f535f" stroke="none"/><line x1="1155.5" y1="66" x2="1155.5" y2="100"/><rect x="1154.5" y="74.5" width="2" height="14" fill="#fff"/><line x1="1159.5" y1="55" x2="1159.5" y2="69"/><rect x="1158.5" y="59.5" width="2" height="3" fill="#fff"/><line x1="1163.5" y1="41" x2="1163.5" y2="66"/><rect x="1162.5" y="41.5" width="2" height="19" fill="#fff"/><line x1="1167.5" y1="38" x2="1167.5" y2="79"/><rect x="1166.0" y="40" width="3" height="34" fill="#3f535f" stroke="none"/><line x1="1171.5" y1="62" x2="1171.5" y2="84"/><rect x="1170.0" y="69" width="3" height="5" fill="#3f535f" stroke="none"/><line x1="1175.5" y1="71" x2="1175.5" y2="89"/><rect x="1174.0" y="72" width="3" height="8" fill="#3f535f" stroke="none"/><line x1="1180.5" y1="77" x2="1180.5" y2="96"/><rect x="1179.5" y="77.5" width="2" height="2" fill="#fff"/><line x1="1184.5" y1="66" x2="1184.5" y2="85"/><rect x="1183.5" y="74.5" width="2" height="6" fill="#fff"/><line x1="1188.5" y1="77" x2="1188.5" y2="106"/><rect x="1187.0" y="77" width="3" height="24" fill="#3f535f" stroke="none"/><line x1="1192.5" y1="87" x2="1192.5" y2="113"/><rect x="1191.5" y="89.5" width="2" height="15" fill="#fff"/><line x1="1196.5" y1="87" x2="1196.5" y2="134"/><rect x="1195.0" y="102" width="3" height="32" fill="#3f535f" stroke="none"/><line x1="1200.5" y1="112" x2="1200.5" y2="134"/><rect x="1199.5" y="117.5" width="2" height="14" fill="#fff"/><line x1="1204.5" y1="84" x2="1204.5" y2="130"/><rect x="1203.5" y="88.5" width="2" height="30" fill="#fff"/><line x1="1208.5" y1="81" x2="1208.5" y2="96"/><rect x="1207.5" y="91.5" width="2" height="2" fill="#fff"/><line x1="1212.5" y1="87" x2="1212.5" y2="97"/><rect x="1211.0" y="88" width="3" height="6" fill="#3f535f" stroke="none"/><line x1="1216.5" y1="100" x2="1216.5" y2="213"/><rect x="1215.0" y="100" width="3" height="105" fill="#3f535f" stroke="none"/><line x1="1220.5" y1="153" x2="1220.5" y2="199"/><rect x="1219.0" y="168" width="3" height="20" fill="#3f535f" stroke="none"/><line x1="1224.5" y1="173" x2="1224.5" y2="255"/><rect x="1223.0" y="175" width="3" height="71" fill="#3f535f" stroke="none"/></g>
<rect x="787.5" y="132.6" width="626" height="12.8" fill="#4caf80" fill-opacity="0.13" stroke="#9fe0c6" stroke-width="1.6"/>
<rect x="362.5" y="330.4" width="1051" height="6" fill="#4caf80" fill-opacity="0.08" stroke="#9fe0c6" stroke-width="1.4"/>
<polyline fill="none" stroke="#0b7bc1" stroke-width="2.5" stroke-linejoin="round" points="5.5,559.0 9.5,559.4 13.5,560.2 17.5,560.4 21.5,560.3 25.5,560.4 29.5,560.1 33.5,560.0 37.5,560.2 41.5,560.2 46.5,559.9 50.5,559.7 54.5,559.6 58.5,559.6 62.5,559.5 66.5,559.7 70.5,559.7 74.5,559.9 78.5,560.3 82.5,560.7 86.5,561.4 90.5,562.4 94.5,563.4 98.5,564.1 102.5,564.5 106.5,564.7 110.5,565.0 114.5,565.5 118.5,565.5 122.5,565.0 127.5,564.5 131.5,564.2 135.5,564.0 139.5,563.5 143.5,563.1 147.5,562.6 151.5,562.1 155.5,561.4 159.5,560.5 163.5,559.2 167.5,557.6 171.5,556.4 175.5,555.0 179.5,553.9 183.5,552.8 187.5,551.6 191.5,550.2 195.5,548.8 199.5,547.5 203.5,546.2 208.5,544.8 212.5,543.2 216.5,541.7 220.5,540.1 224.5,538.5 228.5,536.8 232.5,535.0 236.5,533.1 240.5,531.6 244.5,530.4 248.5,528.9 252.5,527.3 256.5,525.9 260.5,524.4 264.5,522.9 268.5,521.3 272.5,520.1 276.5,518.2 280.5,516.2 284.5,514.1 289.5,511.7 293.5,509.5 297.5,507.0 301.5,504.8 305.5,502.5 309.5,500.6 313.5,498.9 317.5,496.8 321.5,494.9 325.5,492.9 329.5,491.1 333.5,489.3 337.5,487.4 341.5,485.7 345.5,484.2 349.5,482.7 353.5,480.8 357.5,478.7 361.5,476.3 365.5,474.0 370.5,471.6 374.5,468.9 378.5,466.2 382.5,463.6 386.5,461.1 390.5,458.1 394.5,455.2 398.5,452.1 402.5,448.9 406.5,446.0 410.5,443.6 414.5,440.5 418.5,437.6 422.5,434.3 426.5,431.1 430.5,428.3 434.5,426.0 438.5,423.8 442.5,421.3 446.5,418.1 451.5,414.4 455.5,411.2 459.5,408.2 463.5,405.0 467.5,401.5 471.5,398.2 475.5,395.1 479.5,392.1 483.5,389.3 487.5,387.8 491.5,385.9 495.5,384.1 499.5,383.3 503.5,381.5 507.5,380.5 511.5,378.8 515.5,376.9 519.5,375.3 523.5,374.0 527.5,372.4 532.5,371.3 536.5,370.2 540.5,369.0 544.5,367.7 548.5,366.6 552.5,365.4 556.5,364.1 560.5,362.2 564.5,360.3 568.5,358.3 572.5,356.4 576.5,354.7 580.5,353.3 584.5,352.0 588.5,350.6 592.5,349.3 596.5,347.8 600.5,346.2 604.5,344.2 608.5,342.7 613.5,340.9 617.5,338.8 621.5,336.8 625.5,335.1 629.5,333.4 633.5,331.6 637.5,329.8 641.5,328.0 645.5,326.7 649.5,325.0 653.5,323.1 657.5,321.5 661.5,320.4 665.5,319.8 669.5,318.7 673.5,317.2 677.5,315.7 681.5,314.2 685.5,312.6 689.5,311.1 694.5,309.6 698.5,307.7 702.5,305.8 706.5,303.8 710.5,301.9 714.5,300.0 718.5,297.9 722.5,296.0 726.5,294.1 730.5,292.0 734.5,289.9 738.5,287.6 742.5,285.4 746.5,283.5 750.5,281.5 754.5,279.2 758.5,276.9 762.5,274.8 766.5,272.6 770.5,270.4 775.5,268.5 779.5,266.6 783.5,264.6 787.5,262.5 791.5,260.2 795.5,257.8 799.5,256.0 803.5,254.6 807.5,252.9 811.5,251.0 815.5,249.2 819.5,247.2 823.5,245.8 827.5,244.6 831.5,243.5 835.5,243.4 839.5,243.5 843.5,242.6 847.5,241.3 851.5,240.1 856.5,238.9 860.5,237.7 864.5,236.5 868.5,235.1 872.5,233.7 876.5,232.7 880.5,232.1 884.5,231.9 888.5,231.4 892.5,231.2 896.5,231.3 900.5,231.0 904.5,230.5 908.5,230.1 912.5,229.9 916.5,229.9 920.5,230.1 924.5,230.6 928.5,231.3 932.5,232.4 937.5,232.6 941.5,232.1 945.5,231.8 949.5,231.5 953.5,231.0 957.5,230.3 961.5,229.9 965.5,229.5 969.5,228.7 973.5,228.0 977.5,227.5 981.5,227.0 985.5,226.3 989.5,226.0 993.5,225.3 997.5,224.4 1001.5,223.5 1005.5,222.2 1009.5,220.9 1013.5,219.7 1018.5,218.8 1022.5,217.8 1026.5,216.7 1030.5,215.3 1034.5,213.8 1038.5,211.9 1042.5,210.4 1046.5,208.8 1050.5,207.1 1054.5,205.2 1058.5,202.9 1062.5,200.3 1066.5,198.2 1070.5,195.7 1074.5,193.3 1078.5,190.6 1082.5,188.1 1086.5,185.8 1090.5,183.1 1094.5,180.4 1099.5,177.9 1103.5,175.2 1107.5,172.4 1111.5,169.9 1115.5,167.4 1119.5,164.9 1123.5,162.4 1127.5,160.4 1131.5,158.3 1135.5,156.3 1139.5,154.2 1143.5,152.2 1147.5,150.9 1151.5,149.8 1155.5,148.3 1159.5,146.6 1163.5,144.5 1167.5,143.1 1171.5,141.7 1175.5,140.5 1180.5,139.2 1184.5,137.9 1188.5,137.2 1192.5,136.3 1196.5,136.2 1200.5,135.8 1204.5,134.9 1208.5,134.0 1212.5,133.2 1216.5,134.6 1220.5,135.7 1224.5,137.9"/>
<line x1="74" y1="32.5" x2="1348.5" y2="32.5" stroke="#e53935" stroke-width="1"/>
<text x="1341.2" y="27.0" text-anchor="end" font-family="Liberation Sans, sans-serif" font-size="10" fill="#e53935">0.0</text>
<line x1="74" y1="260.5" x2="1348.5" y2="260.5" stroke="#e53935" stroke-width="1"/>
<text x="1341.2" y="255.0" text-anchor="end" font-family="Liberation Sans, sans-serif" font-size="10" fill="#e53935">38.2</text>
<line x1="74" y1="331.5" x2="1348.5" y2="331.5" stroke="#e53935" stroke-width="1"/>
<text x="1341.2" y="326.0" text-anchor="end" font-family="Liberation Sans, sans-serif" font-size="10" fill="#e53935">50.0</text>
<line x1="74" y1="401.5" x2="1348.5" y2="401.5" stroke="#e53935" stroke-width="1"/>
<text x="1341.2" y="396.0" text-anchor="end" font-family="Liberation Sans, sans-serif" font-size="10" fill="#e53935">61.8</text>
<line x1="74" y1="501.5" x2="1348.5" y2="501.5" stroke="#e53935" stroke-width="1"/>
<text x="1341.2" y="496.0" text-anchor="end" font-family="Liberation Sans, sans-serif" font-size="10" fill="#e53935">78.6</text>
<line x1="74" y1="629.5" x2="1348.5" y2="629.5" stroke="#e53935" stroke-width="1"/>
<text x="1341.2" y="624.0" text-anchor="end" font-family="Liberation Sans, sans-serif" font-size="10" fill="#e53935">100.0</text>
<line x1="74" y1="629.5" x2="686" y2="32.5" stroke="#e53935" stroke-width="1.1"/>
<line x1="803" y1="139.6" x2="1378" y2="140.2" stroke="#27875a" stroke-width="1.3"/>
<line x1="1100" y1="37.8" x2="1378" y2="38.6" stroke="#1e7d50" stroke-width="1.4"/>
<line x1="791.3" y1="37.5" x2="1100.5" y2="37.5" stroke="#2196f3" stroke-width="1"/>
<line x1="791.3" y1="285.5" x2="1101.8" y2="285.5" stroke="#2196f3" stroke-width="1"/>
<line x1="791.7" y1="133" x2="922.6" y2="285.5" stroke="#2196f3" stroke-width="1"/>
<text x="1092" y="127.2" text-anchor="end" font-family="Liberation Sans, sans-serif" font-size="10" fill="#2196f3">100.0</text>
<text x="1094" y="280.2" text-anchor="end" font-family="Liberation Sans, sans-serif" font-size="10" fill="#2196f3">0.0</text>
<line x1="2" y1="245.5" x2="1410" y2="245.5" stroke="#3e5662" stroke-width="1"/><line x1="2" y1="246.5" x2="1410" y2="246.5" stroke="#5d6b73" stroke-opacity="0.75" stroke-width="1"/>
<line x1="1338" y1="261.3" x2="1378" y2="262.5" stroke="#1a8ad4" stroke-width="1.2"/>
<line x1="1350" y1="139.5" x2="1378" y2="141.5" stroke="#0b7bc1" stroke-width="1.2"/>
<text x="1422" y="58.8" font-family="Liberation Sans, sans-serif" font-size="12" fill="#4b555b">84.01</text>
<text x="1422" y="96.0" font-family="Liberation Sans, sans-serif" font-size="12" fill="#4b555b">80.95</text>
<text x="1422" y="133.0" font-family="Liberation Sans, sans-serif" font-size="12" fill="#4b555b">77.89</text>
<text x="1422" y="170.1" font-family="Liberation Sans, sans-serif" font-size="12" fill="#4b555b">74.83</text>
<text x="1422" y="207.2" font-family="Liberation Sans, sans-serif" font-size="12" fill="#4b555b">71.77</text>
<text x="1422" y="244.3" font-family="Liberation Sans, sans-serif" font-size="12" fill="#4b555b">68.71</text>
<text x="1422" y="280.6" font-family="Liberation Sans, sans-serif" font-size="12" fill="#4b555b">65.65</text>
<text x="1422" y="317.7" font-family="Liberation Sans, sans-serif" font-size="12" fill="#4b555b">62.59</text>
<text x="1422" y="354.8" font-family="Liberation Sans, sans-serif" font-size="12" fill="#4b555b">59.53</text>
<text x="1422" y="391.9" font-family="Liberation Sans, sans-serif" font-size="12" fill="#4b555b">56.48</text>
<text x="1422" y="429.0" font-family="Liberation Sans, sans-serif" font-size="12" fill="#4b555b">53.42</text>
<text x="1422" y="466.1" font-family="Liberation Sans, sans-serif" font-size="12" fill="#4b555b">50.36</text>
<text x="1422" y="503.2" font-family="Liberation Sans, sans-serif" font-size="12" fill="#4b555b">47.30</text>
<text x="1422" y="540.3" font-family="Liberation Sans, sans-serif" font-size="12" fill="#4b555b">44.24</text>
<text x="1422" y="577.4" font-family="Liberation Sans, sans-serif" font-size="12" fill="#4b555b">41.18</text>
<text x="1422" y="615.0" font-family="Liberation Sans, sans-serif" font-size="12" fill="#4b555b">38.12</text>
<text x="1422" y="647.1" font-family="Liberation Sans, sans-serif" font-size="12" fill="#4b555b">35.06</text>
<rect x="1378" y="31" width="36" height="14" fill="#1b7a4c"/>
<text x="1396" y="41.6" text-anchor="middle" font-family="Liberation Sans, sans-serif" font-size="10.2" fill="#fff">85.50</text>
<rect x="1378" y="132.8" width="36" height="15.8" fill="#0b7bc1"/>
<text x="1396" y="144.3" text-anchor="middle" font-family="Liberation Sans, sans-serif" font-size="10.2" fill="#fff">77.00</text>
<rect x="1378" y="255.2" width="36" height="14.7" fill="#0b7bc1"/>
<text x="1396" y="266.2" text-anchor="middle" font-family="Liberation Sans, sans-serif" font-size="10.2" fill="#fff">67.00</text>
<rect x="1378" y="328.2" width="36" height="14.7" fill="#0b7bc1"/>
<text x="1396" y="339.2" text-anchor="middle" font-family="Liberation Sans, sans-serif" font-size="10.2" fill="#fff">61.00</text>
<path d="M1410 245.8 L1418.5 237 L1470 237 L1470 254.8 L1418.5 254.8 Z" fill="#848e93"/>
<text x="1422" y="250.8" font-family="Liberation Sans, sans-serif" font-size="12" font-weight="bold" fill="#fff">68.26</text>
<text x="5.3" y="661.8" font-family="Liberation Sans, sans-serif" font-size="12" fill="#4b555b">30.09.2020</text>
<text x="143.1" y="661.8" font-family="Liberation Sans, sans-serif" font-size="12" fill="#4b555b">17.11.2020</text>
<text x="280.8" y="661.8" font-family="Liberation Sans, sans-serif" font-size="12" fill="#4b555b">06.01.2021</text>
<text x="418.6" y="661.8" font-family="Liberation Sans, sans-serif" font-size="12" fill="#4b555b">23.02.2021</text>
<text x="556.4" y="661.8" font-family="Liberation Sans, sans-serif" font-size="12" fill="#4b555b">13.04.2021</text>
<text x="694.1" y="661.8" font-family="Liberation Sans, sans-serif" font-size="12" fill="#4b555b">31.05.2021</text>
<text x="831.9" y="661.8" font-family="Liberation Sans, sans-serif" font-size="12" fill="#4b555b">16.07.2021</text>
<text x="969.7" y="661.8" font-family="Liberation Sans, sans-serif" font-size="12" fill="#4b555b">02.09.2021</text>
<text x="1107.5" y="661.8" font-family="Liberation Sans, sans-serif" font-size="12" fill="#4b555b">20.10.2021</text>
<text x="1245.2" y="661.8" font-family="Liberation Sans, sans-serif" font-size="12" fill="#4b555b">05.12.2021</text>
<text x="1383.0" y="661.8" font-family="Liberation Sans, sans-serif" font-size="12" fill="#4b555b">08.01.2022</text>
<g fill="#adadad"><rect x="6" y="635" width="10" height="5.8"/><rect x="6" y="642.1" width="10" height="1.8"/></g>
<rect x="11" y="638.2" width="4" height="1" fill="#fff"/>
<path d="M20.6 636.6 L27.2 643.2 M27.2 636.6 L20.6 643.2" stroke="#adadad" stroke-width="2.2"/>
<text x="31.5" y="646.2" font-family="Liberation Sans, sans-serif" font-size="10" fill="#5a5f63" textLength="89" lengthAdjust="spacingAndGlyphs" xml:space="preserve">EMA [100,  0] 77.17</text>
</svg>
</body></html>
